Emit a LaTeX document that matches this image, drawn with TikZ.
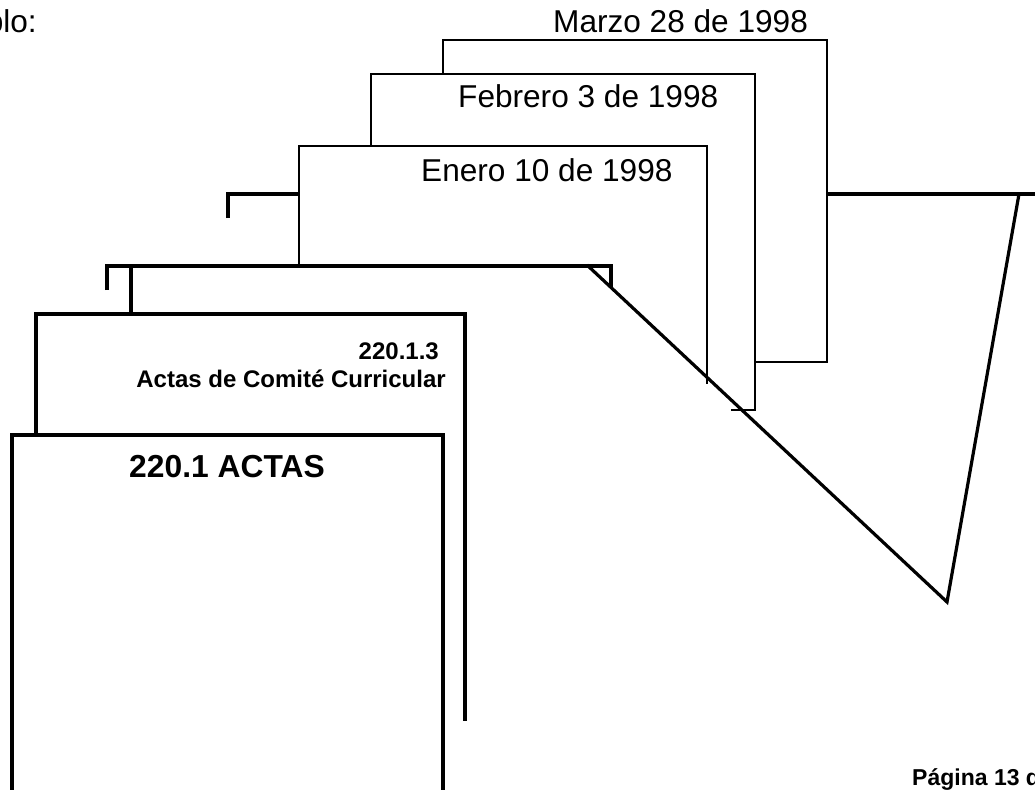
\documentclass[tikz,border=0pt]{standalone}
\usepackage{fontspec}
\setmainfont{Liberation Sans}
\begin{document}
\begin{tikzpicture}[x=1pt,y=-1pt,
  thinln/.style={line width=1.6pt},
  thickln/.style={line width=3.2pt},
  datetxt/.style={inner sep=0pt,font=\fontsize{31.6}{32}\selectfont},
  smallbold/.style={inner sep=0pt,font=\fontsize{24}{24}\selectfont\bfseries},
  bigbold/.style={inner sep=0pt,font=\fontsize{31.8}{32}\selectfont\bfseries},
  pagetxt/.style={inner sep=0pt,font=\fontsize{23}{23}\selectfont\bfseries}]
\useasboundingbox (0,0) rectangle (1035,789);
\clip (0,0) rectangle (1035,789);
\fill[white] (0,0) rectangle (1035,789);
% back folders (thin)
\draw[thinln] (443,74) -- (443,40) -- (827,40) -- (827,362) -- (755,362);
\draw[thinln] (371,146) -- (371,74) -- (755,74) -- (755,410) -- (731,410);
\draw[thinln] (299,266) -- (299,146) -- (707,146) -- (707,384);
% thick structure
\draw[thickln] (228,218) -- (228,194) -- (299,194);
\draw[thickln] (107,290) -- (107,266) -- (611,266) -- (611,288);
\draw[thickln] (131,266) -- (131,314);
\draw[thickln] (587,265) -- (947,602) -- (1019,194);
\draw[thickln] (827,194) -- (1040,194);
\draw[thickln] (36,435) -- (36,314) -- (465,314) -- (465,721);
\draw[thickln] (12,795) -- (12,435) -- (443,435) -- (443,795);
% texts
\node[datetxt,anchor=base east] (ej) at (37,33) {Ejemplo:};
\node[datetxt,anchor=base west] (marzo) at (553,33) {Marzo 28 de 1998};
\node[datetxt,anchor=base west] (feb) at (458,108) {Febrero 3 de 1998};
\node[datetxt,anchor=base west] (ene) at (421,181) {Enero 10 de 1998};
\node[smallbold,anchor=base east] (code) at (439,359) {220.1.3};
\node[smallbold,anchor=base east] (actas) at (446,387) {Actas de Comité Curricular};
\node[bigbold,anchor=base] (main) at (227,477) {220.1 ACTAS};
\node[pagetxt,anchor=base west] (pag) at (912,785) {Página 13 de};
\end{tikzpicture}
\end{document}
